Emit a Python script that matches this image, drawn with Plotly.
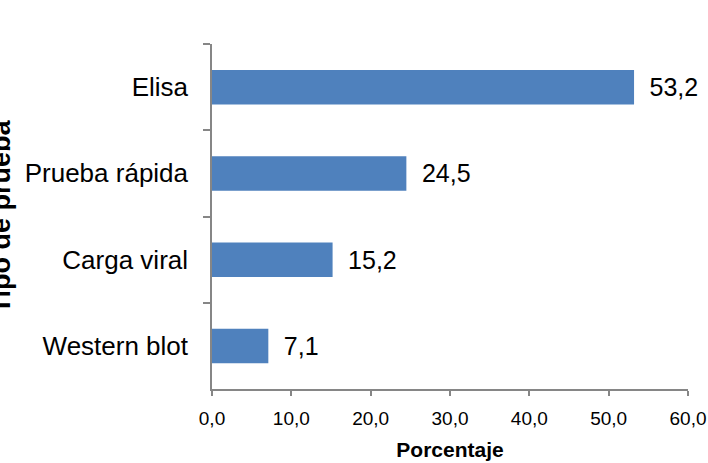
import plotly.graph_objects as go

pruebas = ["Elisa", "Prueba rápida", "Carga viral", "Western blot"]
porcentaje = [53.2, 24.5, 15.2, 7.1]
x_ticks = [0, 10, 20, 30, 40, 50, 60]

AXIS_GREY = "#868686"
BAR_BLUE = "#4F81BD"
FONT = "Liberation Sans, Arial, sans-serif"

fig = go.Figure(go.Bar(
    x=porcentaje, y=pruebas, orientation="h",
    marker=dict(color=BAR_BLUE, line=dict(width=0)),
    text=porcentaje, texttemplate="\u2002%{x:.1f}", textposition="outside",
    textfont=dict(family=FONT, size=25, color="#000000"),
    cliponaxis=False,
))

fig.update_layout(
    width=708, height=463,
    margin=dict(l=212, r=20, t=44, b=74, autoexpand=False),
    paper_bgcolor="white", plot_bgcolor="white",
    separators=",.",
    bargap=0.6,
    showlegend=False,
    font=dict(family=FONT, color="#000000"),
    xaxis=dict(
        range=[0, 60], tickvals=x_ticks, tickformat=".1f",
        showgrid=False, zeroline=False,
        showline=True, linecolor=AXIS_GREY, linewidth=1.5,
        ticks="outside", ticklen=5, tickcolor=AXIS_GREY, tickwidth=1.5,
        ticklabelstandoff=6,
        tickfont=dict(size=19),
        title=dict(text="<b>Porcentaje</b>", font=dict(size=21), standoff=15),
    ),
    yaxis=dict(
        autorange="reversed", showgrid=False, zeroline=False,
        showline=True, linecolor=AXIS_GREY, linewidth=1.5,
        ticks="outside", ticklen=7, tickcolor=AXIS_GREY, tickwidth=1.5,
        tickson="boundaries", ticklabelstandoff=17,
        tickfont=dict(size=26),
    ),
    annotations=[dict(
        text="<b>Tipo de prueba</b>", textangle=-90,
        xref="paper", yref="paper", x=(0 - 212) / 476, y=0.5,
        xanchor="center", yanchor="middle", showarrow=False,
        font=dict(size=27, color="#000000"),
    )],
)

fig.write_html("out.html", config={"displayModeBar": False},
               post_script="document.body.style.margin='0px';")
